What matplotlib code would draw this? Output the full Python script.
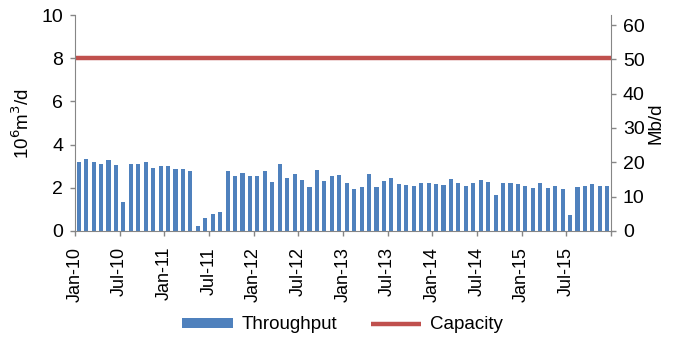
import matplotlib.pyplot as plt
import numpy as np

plt.rcParams['font.family'] = ['Liberation Sans', 'DejaVu Sans']

# monthly throughput, Jan-10 .. Dec-15 (10^6 m3/d)
throughput = [3.18, 3.32, 3.18, 3.09, 3.29, 3.06, 1.33, 3.10, 3.10, 3.18, 2.92, 3.02,
              3.02, 2.89, 2.89, 2.76, 0.23, 0.59, 0.79, 0.88, 2.76, 2.53, 2.67, 2.53,
              2.56, 2.76, 2.28, 3.10, 2.47, 2.65, 2.36, 2.04, 2.81, 2.31, 2.55, 2.58,
              2.24, 1.93, 2.04, 2.64, 2.04, 2.33, 2.44, 2.18, 2.14, 2.08, 2.22, 2.21,
              2.16, 2.11, 2.39, 2.24, 2.10, 2.21, 2.35, 2.28, 1.65, 2.24, 2.21, 2.18,
              2.07, 2.01, 2.22, 2.01, 2.07, 1.94, 0.73, 2.02, 2.07, 2.19, 2.07, 2.07]
capacity = 8.0
mb_per_mcm = 6.29  # 10^6 m3/d -> Mb/d
tick_labels = ['Jan-10', 'Jul-10', 'Jan-11', 'Jul-11', 'Jan-12', 'Jul-12',
               'Jan-13', 'Jul-13', 'Jan-14', 'Jul-14', 'Jan-15', 'Jul-15']

blue = '#4F81BD'
red = '#C0504D'
grey = '#868686'
n = len(throughput)
x = np.arange(n) + 0.5

fig = plt.figure(figsize=(6.85, 3.42), dpi=100)
ax = fig.add_axes([0.1095, 0.3246, 0.7825, 0.6314])
ax.bar(x, throughput, width=0.55, color=blue, label='Throughput')
ax.plot([0, n], [capacity, capacity], color=red, lw=3.2, solid_capstyle='butt', label='Capacity')
ax.set_xlim(0, n)
ax.set_ylim(0, 10)
ax.set_yticks(range(0, 11, 2))
ax.set_xticks(np.arange(0, n + 1, 6))
ax.set_xticklabels(tick_labels + [''], rotation=90)
ax.set_ylabel('10$^6$m$^3$/d', fontsize=13.5, labelpad=6)

ax2 = ax.twinx()
ax2.set_ylim(0, 10 * mb_per_mcm)
ax2.set_yticks(range(0, 61, 10))
ax2.set_ylabel('Mb/d', fontsize=13.5, labelpad=2)

for a in (ax, ax2):
    a.spines['top'].set_visible(False)
    for s in ('left', 'right', 'bottom'):
        a.spines[s].set_color(grey)
    a.tick_params(colors=grey, labelcolor='black', labelsize=14, length=3.5, width=1, pad=5)
ax.tick_params(axis='x', labelsize=13, pad=8)
ax.spines['right'].set_visible(False)
ax2.spines['left'].set_visible(False)
ax2.spines['bottom'].set_visible(False)

h, l = ax.get_legend_handles_labels()
fig.legend(h[::-1], l[::-1], loc='center', bbox_to_anchor=(0.5, 0.05), ncol=2,
           frameon=False, fontsize=13.5, handlelength=2.7, handleheight=0.45,
           columnspacing=1.8, handletextpad=0.45)

fig.savefig('out.png', dpi=100)
plt.close(fig)
